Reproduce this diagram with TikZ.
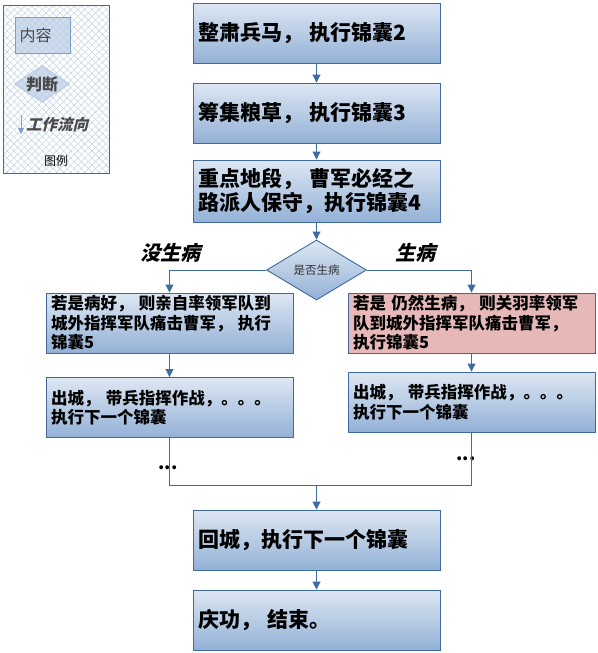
\documentclass[tikz,border=0pt]{standalone}
\usepackage{fontspec}
\setmainfont{Noto Sans CJK SC}
\newfontfamily\slantcjk{Noto Sans CJK SC}[FakeSlant=0.25]
\newfontfamily\slantreg{Noto Sans CJK SC}[FakeSlant=0.25]
\usetikzlibrary{patterns.meta,shapes.geometric,arrows.meta}
\definecolor{bord}{HTML}{3E6A9E}
\definecolor{gtop}{HTML}{DDE7F3}
\definecolor{gbot}{HTML}{93B1D6}
\definecolor{pinkf}{HTML}{E6B9B8}
\definecolor{arr}{HTML}{3D6CA3}
\definecolor{hatch}{HTML}{B8CCE6}
\definecolor{legf}{HTML}{B9CCE4}
\definecolor{legb}{HTML}{7F9FC9}
\definecolor{graytxt}{HTML}{4A4A4A}
\tikzset{
  bigbox/.style={draw=bord, line width=0.9pt, top color=gtop, bottom color=gbot,
    text width=237pt, inner xsep=5pt, inner ysep=0pt, minimum height=60pt, align=left,
    font=\bfseries\fontsize{21}{24}\selectfont},
  smallbox/.style={draw=bord, line width=0.9pt, top color=gtop, bottom color=gbot,
    text width=237pt, inner xsep=5pt, inner ysep=0pt, minimum height=60pt, align=left,
    font=\bfseries\fontsize{16.5}{19.5}\selectfont},
  pinkbox/.style={smallbox, top color=pinkf, bottom color=pinkf, fill=pinkf},
  flowline/.style={draw=arr, line width=0.9pt},
  flowarrow/.style={flowline, -{Triangle[width=8pt,length=8pt]}},
  branchlabel/.style={font=\slantcjk\bfseries\fontsize{20}{22}\selectfont},
  dots/.style={font=\bfseries\fontsize{18}{18}\selectfont, inner sep=0pt}
}
\begin{document}
\begin{tikzpicture}[x=1pt,y=-1pt]
\useasboundingbox (0,0) rectangle (597,653);
% legend
\fill[white] (3,5) rectangle (109,173);
\fill[pattern={Lines[angle=45,distance=5pt,line width=0.4pt]},pattern color=hatch] (3,5) rectangle (109,173);
\fill[pattern={Lines[angle=-45,distance=5pt,line width=0.4pt]},pattern color=hatch] (3,5) rectangle (109,173);
\node[draw=bord, line width=0.8pt, minimum width=106pt, minimum height=168pt, inner sep=0pt] (legend) at (56,89) {};
\node[draw=legb, fill=legf, fill opacity=0.7, text opacity=1, minimum width=55pt, minimum height=36pt, inner sep=0pt,
  text=graytxt, font=\fontsize{16}{16}\selectfont, anchor=west] (legrect) at (15,35) {\hspace*{-14pt}内容};
\node[diamond, draw=legb!70, fill=legf, fill opacity=0.7, text opacity=1, minimum width=54pt, minimum height=37pt, aspect=1.5,
  inner sep=0pt, text=graytxt, font=\bfseries\fontsize{16}{16}\selectfont] (legdia) at (42,84) {判断};
\coordinate (la) at (21,115);
\coordinate (lb) at (21,134);
\draw[draw=legb, line width=0.8pt, -{Triangle[width=6pt,length=6pt]}] (la) -- (lb);
\node[text=graytxt, font=\slantreg\bfseries\fontsize{15.5}{16}\selectfont, anchor=west, inner sep=0pt] (legflow) at (26,125) {工作流向};
\node[font=\fontsize{12}{12}\selectfont, inner sep=0pt] (legtitle) at (56,161) {图例};
% main flow
\node[bigbox] (b1) at (316.5,33) {整肃兵马， 执行锦囊2};
\node[bigbox] (b2) at (316.5,113) {筹集粮草， 执行锦囊3};
\node[bigbox, minimum height=62pt] (b3) at (316.5,191) {重点地段， 曹军必经之\\路派人保守，执行锦囊4};
\node[diamond, draw=bord, line width=0.9pt, top color=gtop, bottom color=gbot, minimum width=100pt, minimum height=60pt,
  aspect=1.65, inner sep=0pt, font=\fontsize{11.5}{12}\selectfont, text=black!80] (d) at (316.5,270) {是否生病};
\node[smallbox] (b4) at (169.5,323) {若是病好， 则亲自率领军队到\\城外指挥军队痛击曹军， 执行\\锦囊5};
\node[pinkbox] (b5) at (471.5,323) {若是 仍然生病， 则关羽率领军\\队到城外指挥军队痛击曹军，\\执行锦囊5};
\node[smallbox] (b6) at (169.5,407.5) {出城， 带兵指挥作战，。。。\\执行下一个锦囊};
\node[smallbox] (b7) at (471.5,402) {出城， 带兵指挥作战，。。。\\执行下一个锦囊};
\node[bigbox] (b8) at (316.5,540) {回城，执行下一个锦囊};
\node[bigbox] (b9) at (316.5,620) {庆功， 结束。};
\node[branchlabel] (lno) at (170,253) {没生病};
\node[branchlabel] (lyes) at (415,253) {生病};
\node[dots] (dl) at (168,468) {...};
\node[dots] (dr) at (466,459) {...};
\coordinate (m) at (316.5,485);
\draw[flowarrow] (b1) -- (b2);
\draw[flowarrow] (b2) -- (b3);
\draw[flowarrow] (b3) -- (d);
\draw[flowarrow] (d.west) -| (b4.north);
\draw[flowarrow] (d.east) -| (b5.north);
\draw[flowarrow] (b4) -- (b6);
\draw[flowarrow] (b5) -- (b7);
\draw[flowline] (b6.south) |- (m);
\draw[flowline] (b7.south) |- (m);
\draw[flowarrow] (m) -- (b8.north);
\draw[flowarrow] (b8) -- (b9);
\end{tikzpicture}
\end{document}
